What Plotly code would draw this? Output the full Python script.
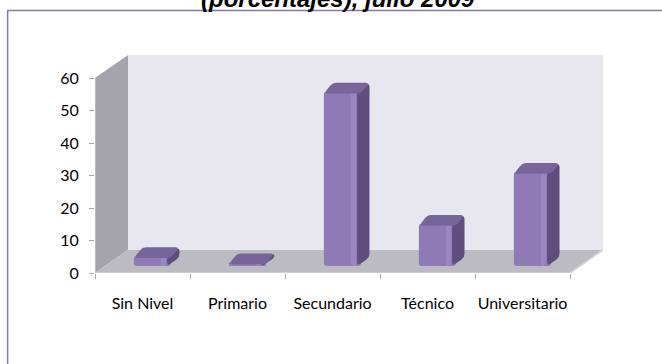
import math
import plotly.graph_objects as go

# Nivel educativo (porcentajes)
categorias = ["Sin Nivel", "Primario", "Secundario", "Técnico", "Universitario"]
porcentajes = [3.1, 1.2, 53.7, 13.0, 29.0]
y_ticks = [0, 10, 20, 30, 40, 50, 60]
titulo = "(porcentajes), julio 2009"

# Pseudo-3D geometry, expressed in axis units
DX = 0.347        # horizontal shift of the back plane (category units)
DY = 7.08         # vertical shift of the back plane (value units)
Y_MAX = 60
BAR_W = 0.39
D_FRONT = 0.30    # depth of the bar front face (0 = front, 1 = back)
BAR_SX = 0.09     # horizontal extent of the bar side face (category units)
BAR_SY = 2.7      # vertical extent of the bar top cap (value units)

# pixels per axis unit (plot area 508 x 218 px)
PX_X = 95.0
PX_Y = 3.25

C_FRONT = "#8E7BB5"
C_SIDE = "#5F4D7E"
C_TOP = "#77659A"
C_HI = "#A592CC"

n = len(categorias)
xs = list(range(n))
x_lo, x_hi = -0.5, n - 0.5

fig = go.Figure()


def path(pts):
    return "M " + " L ".join(f"{x},{y}" for x, y in pts) + " Z"


def rounded(pts, r_px=3.0, steps=5):
    """Round the corners of a polygon given in axis units (radius in pixels)."""
    P = [(x * PX_X, y * PX_Y) for x, y in pts]
    out = []
    m = len(P)
    for k in range(m):
        a, b, c = P[k - 1], P[k], P[(k + 1) % m]
        v1 = (a[0] - b[0], a[1] - b[1])
        v2 = (c[0] - b[0], c[1] - b[1])
        l1, l2 = math.hypot(*v1), math.hypot(*v2)
        r = min(r_px, l1 / 2, l2 / 2)
        p1 = (b[0] + v1[0] / l1 * r, b[1] + v1[1] / l1 * r)
        p2 = (b[0] + v2[0] / l2 * r, b[1] + v2[1] / l2 * r)
        for s in range(steps + 1):
            t = s / steps
            qx = (1 - t) ** 2 * p1[0] + 2 * (1 - t) * t * b[0] + t ** 2 * p2[0]
            qy = (1 - t) ** 2 * p1[1] + 2 * (1 - t) * t * b[1] + t ** 2 * p2[1]
            out.append((qx / PX_X, qy / PX_Y))
    out.append(out[0])
    return [p[0] for p in out], [p[1] for p in out]


# Walls and floor
shapes = [
    dict(type="path", xref="x", yref="y", layer="below",
         path=path([(x_lo + DX, DY), (x_hi + DX, DY), (x_hi + DX, Y_MAX + DY), (x_lo + DX, Y_MAX + DY)]),
         fillcolor="#E8E6EE", line=dict(width=0)),
    dict(type="path", xref="x", yref="y", layer="below",
         path=path([(x_lo, 0), (x_lo, Y_MAX), (x_lo + DX, Y_MAX + DY), (x_lo + DX, DY)]),
         fillcolor="#A5A3AC", line=dict(width=0)),
    dict(type="path", xref="x", yref="y", layer="below",
         path=path([(x_lo, 0), (x_hi, 0), (x_hi + DX, DY), (x_lo + DX, DY)]),
         fillcolor="#BDBBC2", line=dict(width=0)),
    # front edges of the floor and of the side wall
    dict(type="line", xref="x", yref="y", layer="below",
         x0=x_lo, y0=0, x1=x_hi, y1=0, line=dict(color="#D6D5D9", width=1.5)),
    dict(type="line", xref="x", yref="y", layer="below",
         x0=x_hi, y0=0, x1=x_hi + DX, y1=DY, line=dict(color="#D6D5D9", width=1.5)),
    dict(type="line", xref="x", yref="y", layer="below",
         x0=x_lo, y0=0, x1=x_lo, y1=Y_MAX, line=dict(color="#D0CFD4", width=1)),
    # chart frame
    dict(type="rect", xref="paper", yref="paper", x0=-0.172, y0=-0.6, x1=1.3, y1=1.204,
         line=dict(color="#8A76AE", width=1.5), fillcolor="rgba(0,0,0,0)"),
]

# Bars: side face and top cap, all derived from the values
b0 = D_FRONT * DY
for i, v in zip(xs, porcentajes):
    xc = i + D_FRONT * DX
    xl, xr = xc - BAR_W / 2, xc + BAR_W / 2
    top = b0 + v
    sx, sy = rounded([(xr - 0.04, b0), (xr + BAR_SX, b0 + BAR_SY),
                      (xr + BAR_SX, top + BAR_SY), (xr - 0.04, top)], r_px=4)
    fig.add_trace(go.Scatter(x=sx, y=sy, fill="toself", mode="lines",
                             fillcolor=C_SIDE, line=dict(width=0), hoverinfo="skip",
                             showlegend=False))
    cx, cy = rounded([(xl, top - 0.6), (xr, top - 0.6), (xr + BAR_SX, top + BAR_SY),
                      (xl + BAR_SX, top + BAR_SY)], r_px=4)
    fig.add_trace(go.Scatter(x=cx, y=cy, fill="toself", mode="lines",
                             fillcolor=C_TOP, line=dict(width=0), hoverinfo="skip",
                             showlegend=False))

# front faces
fig.add_trace(go.Bar(x=[i + D_FRONT * DX for i in xs], y=porcentajes, base=[b0] * n,
                     width=BAR_W, marker=dict(color=C_FRONT, line=dict(width=0), cornerradius=3),
                     showlegend=False))
# soft highlight near the right edge of each front face
fig.add_trace(go.Bar(x=[i + D_FRONT * DX + BAR_W * 0.30 for i in xs], y=porcentajes,
                     base=[b0] * n, width=BAR_W * 0.14,
                     marker=dict(color=C_HI, opacity=0.5, line=dict(width=0), cornerradius=2),
                     showlegend=False))

font_family = "Lato, 'Liberation Sans', sans-serif"

fig.update_layout(
    width=662, height=364,
    margin=dict(l=95, r=59, t=55, b=91),
    paper_bgcolor="white", plot_bgcolor="white",
    barmode="overlay",
    shapes=shapes,
    font=dict(family=font_family, size=16, color="#000000"),
    xaxis=dict(range=[x_lo, x_hi + DX], tickvals=xs, ticktext=categorias,
               ticks="", showgrid=False, zeroline=False, showline=False,
               ticklabelstandoff=19,
               minor=dict(tickvals=[k - 0.5 for k in range(n + 1)], ticks="outside",
                          ticklen=5, tickcolor="#A8A8A8", showgrid=False),
               fixedrange=True),
    yaxis=dict(range=[0, Y_MAX + DY], tickvals=y_ticks, ticks="outside", ticklen=5,
               tickcolor="#A8A8A8", showgrid=False, zeroline=False, showline=False,
               ticklabelstandoff=7, fixedrange=True),
    annotations=[dict(text=f"<b><i>{titulo}</i></b>", xref="paper", yref="paper",
                      x=0.479, y=1.19, xanchor="center", yanchor="bottom",
                      showarrow=False,
                      font=dict(size=24, color="#000000", family="'Liberation Sans', Arial, sans-serif"))],
)

fig.write_html("out.html")
